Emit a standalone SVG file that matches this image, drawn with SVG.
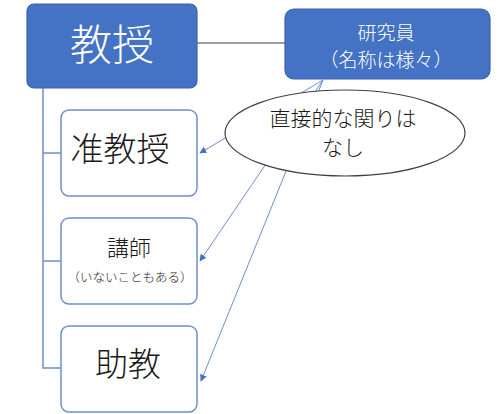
<svg xmlns="http://www.w3.org/2000/svg" width="500" height="414" viewBox="0 0 500 414">
<defs>
<style>
.t{font-family:"Noto Sans CJK JP","Noto Sans",sans-serif;text-anchor:middle;font-weight:300}
.w{fill:#fff}
.k{fill:#1a1a1a}
.solid{fill:#4472C4;stroke:#3a63ad;stroke-width:1.2}
.open{fill:#fff;stroke:#6f8fd0;stroke-width:1.5}
.tree{fill:none;stroke:#6f8fd0;stroke-width:1.5}
.arr{fill:none;stroke:#6f8fd0;stroke-width:1;marker-end:url(#ah)}
</style>
<marker id="ah" viewBox="0 0 10 10" refX="9" refY="5" markerWidth="7" markerHeight="7" orient="auto" markerUnits="userSpaceOnUse">
<path d="M0,0 L10,5 L0,10 z" fill="#4472C4"/>
</marker>
</defs>
<rect width="500" height="414" fill="#fff"/>
<g id="connectors">
<line x1="197" y1="43" x2="285" y2="43" stroke="#404040" stroke-width="1.2"/>
<path class="tree" d="M43,88 V368 H61 M43,153 H61 M43,261 H61"/>
<line class="arr" x1="323" y1="80" x2="200" y2="153"/>
<line class="arr" x1="323" y1="80" x2="200" y2="261"/>
<line class="arr" x1="323" y1="80" x2="201" y2="381"/>
</g>
<g id="kyoju">
<rect class="solid" x="27" y="4" width="170" height="84" rx="7"/>
<text class="t w" x="112" y="60" font-size="42">教授</text>
</g>
<g id="kenkyuin">
<rect class="solid" x="285" y="9" width="205" height="70" rx="9"/>
<text class="t w" x="386" y="40" font-size="19">研究員</text>
<text class="t w" x="386" y="67" font-size="19">（名称は様々）</text>
</g>
<g id="junkyoju">
<rect class="open" x="61" y="110" width="136" height="86" rx="8"/>
<text class="t k" x="120" y="161" font-size="33">准教授</text>
</g>
<g id="koshi">
<rect class="open" x="61" y="218" width="136" height="86" rx="8"/>
<text class="t k" x="129" y="256" font-size="22">講師</text>
<text class="t k" x="130" y="282" font-size="12.5">（いないこともある）</text>
</g>
<g id="jokyo">
<rect class="open" x="61" y="326" width="136" height="86" rx="8"/>
<text class="t k" x="128" y="376" font-size="33">助教</text>
</g>
<g id="note">
<ellipse cx="345" cy="133" rx="120" ry="43" fill="#fff" stroke="#404040" stroke-width="1.2"/>
<text class="t k" x="343" y="126" font-size="21">直接的な関りは</text>
<text class="t k" x="343" y="155" font-size="21">なし</text>
</g>
</svg>
